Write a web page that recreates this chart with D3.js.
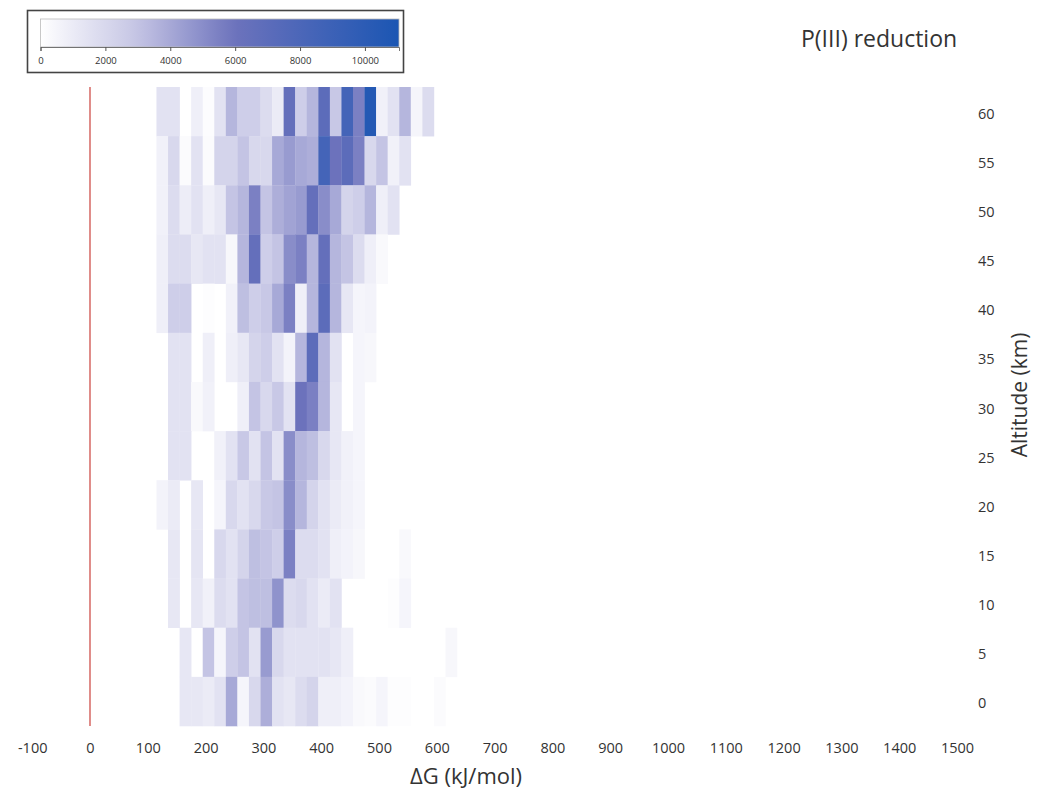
<!DOCTYPE html>
<html>
<head>
<meta charset="utf-8">
<script src="https://cdn.jsdelivr.net/npm/d3@7"></script>
<style>
  html, body { margin: 0; padding: 0; background: #ffffff; }
  svg { display: block; }
  text { font-family: "Open Sans", "Noto Sans", sans-serif; fill: #333; }
</style>
</head>
<body>
<svg id="chart" width="1045" height="793"></svg>
<script>
// ---- data ----
const title = "P(III) reduction";
const xLabel = "\u0394G (kJ/mol)";
const yLabel = "Altitude (km)";
const xTicks = [-100, 0, 100, 200, 300, 400, 500, 600, 700, 800, 900, 1000, 1100, 1200, 1300, 1400, 1500];
const yTicks = [0, 5, 10, 15, 20, 25, 30, 35, 40, 45, 50, 55, 60];
const legendTicks = [0, 2000, 4000, 6000, 8000, 10000];
const legendMax = 11050;
const binWidth = 20;
// lower edges of the ΔG bins (kJ/mol)
const binStarts = [115, 135, 155, 175, 195, 215, 235, 255, 275, 295, 315, 335, 355,
                   375, 395, 415, 435, 455, 475, 495, 515, 535, 555, 575, 595, 615];
// counts per bin, one array per altitude (km)
const alt60 = [1500,1500,0,800,150,1500,3500,2500,2500,1800,1000,6500,2500,3500,7000,2800,8500,5500,10500,700,1500,3500,500,1800,0,0];
const alt55 = [700,2000,200,1500,200,2200,2200,3000,2000,2000,4000,4500,4000,3800,8500,6000,7000,5500,2000,3000,700,1500,0,0,0,0];
const alt50 = [700,1800,900,1500,800,1200,3000,3500,5500,3000,3800,4200,4500,6500,5000,4000,2200,2500,3500,800,1500,0,0,0,0,0];
const alt45 = [800,1800,1800,1200,1500,1500,400,3500,6500,2500,3000,5000,5500,3500,6500,3500,3000,1800,800,300,0,0,0,0,0,0];
const alt40 = [800,2500,2500,0,100,0,700,3200,2500,2800,4000,5500,800,3500,7000,3500,1200,500,600,0,0,0,0,0,0,0];
const alt35 = [0,1500,1500,0,800,0,800,1200,2200,2500,1500,600,3500,7000,3500,1500,0,500,400,0,0,0,0,0,0,0];
const alt30 = [0,1500,1500,300,700,0,0,800,3000,2000,2800,1500,6000,5500,3500,1200,0,500,0,0,0,0,0,0,0,0];
const alt25 = [0,1500,1500,0,0,700,1500,2800,1500,3000,1500,5000,3500,3200,2000,1200,700,500,0,0,0,0,0,0,0,0];
const alt20 = [600,1000,0,1200,0,500,2000,1500,2000,2800,3000,5000,3500,2200,1500,1000,700,500,0,0,0,0,0,0,0,0];
const alt15 = [0,1200,0,1300,0,2000,1500,2200,3200,3000,2500,5500,1800,1800,1500,800,600,400,0,0,0,300,0,0,0,0];
const alt10 = [0,1200,0,1200,700,1800,1500,3000,3200,3200,4800,1800,2000,1500,1000,1500,0,0,0,0,100,500,0,0,0,0];
const alt5  = [0,0,1200,0,3000,500,2500,3000,1500,4500,2000,1500,1500,1500,1500,1200,800,0,0,0,0,0,0,0,0,400];
const alt0  = [0,0,1200,1200,1000,1500,4000,500,2000,3800,1500,1200,1800,2200,800,800,600,300,200,500,100,100,0,0,200,0];

const rows = [
  {alt: 60, counts: alt60}, {alt: 55, counts: alt55}, {alt: 50, counts: alt50},
  {alt: 45, counts: alt45}, {alt: 40, counts: alt40}, {alt: 35, counts: alt35},
  {alt: 30, counts: alt30}, {alt: 25, counts: alt25}, {alt: 20, counts: alt20},
  {alt: 15, counts: alt15}, {alt: 10, counts: alt10}, {alt: 5, counts: alt5},
  {alt: 0, counts: alt0}
];
const cells = [];
rows.forEach(r => r.counts.forEach((c, i) => cells.push({alt: r.alt, x0: binStarts[i], v: c})));

// ---- scales ----
const svg = d3.select("#chart");
const x = d3.scaleLinear().domain([0, 1500]).range([90, 957]);
const y = d3.scaleLinear().domain([-2.5, 62.5]).range([726, 87]);
const color = d3.scaleLinear()
  .domain([0, 3000, 6000, legendMax])
  .range(["#ffffff", "#c4c4e4", "#6c72bc", "#1b56b3"])
  .interpolate(d3.interpolateRgb)
  .clamp(true);

// ---- heatmap ----
svg.append("g").selectAll("rect")
  .data(cells.filter(d => d.v > 0))
  .join("rect")
  .attr("x", d => x(d.x0))
  .attr("width", d => x(d.x0 + binWidth) - x(d.x0) + 0.3)
  .attr("y", d => y(d.alt + 2.5))
  .attr("height", d => y(d.alt - 2.5) - y(d.alt + 2.5) + 0.3)
  .attr("fill", d => color(d.v));

// zero line
svg.append("line")
  .attr("x1", x(0)).attr("x2", x(0))
  .attr("y1", y(62.5)).attr("y2", y(-2.5))
  .attr("stroke", "#d8706c").attr("stroke-width", 1.6);

// ---- x axis ----
const xAxis = svg.append("g")
  .attr("transform", "translate(0,743)")
  .call(d3.axisBottom(x).tickValues(xTicks).tickSize(0).tickPadding(0).tickFormat(d => String(d)));
xAxis.select(".domain").remove();
xAxis.selectAll("text").attr("font-size", 14.5).attr("fill", "#333")
  .style("font-family", "'Open Sans', sans-serif").attr("dy", "0.71em");

svg.append("text").attr("x", 466).attr("y", 784)
  .attr("text-anchor", "middle").attr("font-size", 22).text(xLabel);

// ---- y axis (right) ----
const yAxis = svg.append("g")
  .attr("transform", "translate(978,0)")
  .call(d3.axisRight(y).tickValues(yTicks).tickSize(0).tickPadding(0));
yAxis.select(".domain").remove();
yAxis.selectAll("text").attr("font-size", 14.5).attr("fill", "#333")
  .style("font-family", "'Open Sans', sans-serif").attr("dy", "0.45em");

svg.append("text")
  .attr("transform", "translate(1027,395) rotate(-90)")
  .attr("text-anchor", "middle").attr("font-size", 21).text(yLabel);

// ---- title ----
svg.append("text").attr("x", 801).attr("y", 47)
  .attr("font-size", 23).text(title);

// ---- legend ----
const lg = svg.append("g");
lg.append("rect").attr("x", 27.5).attr("y", 10.5).attr("width", 376).attr("height", 62)
  .attr("fill", "#fff").attr("stroke", "#444").attr("stroke-width", 1.6);
const defs = svg.append("defs");
const grad = defs.append("linearGradient").attr("id", "lgGrad").attr("x1", "0%").attr("x2", "100%");
d3.range(0, 1.0001, 0.05).forEach(t => {
  grad.append("stop").attr("offset", (t * 100) + "%").attr("stop-color", color(t * legendMax));
});
const lx = d3.scaleLinear().domain([0, legendMax]).range([40.5, 399]);
lg.append("rect").attr("x", lx(0)).attr("y", 19).attr("width", lx(legendMax) - lx(0)).attr("height", 28)
  .attr("fill", "url(#lgGrad)").attr("stroke", "#bbb").attr("stroke-width", 0.8);
const lAxis = lg.append("g").attr("transform", "translate(0,47)")
  .call(d3.axisBottom(lx).tickValues(legendTicks).tickSize(4).tickPadding(6).tickFormat(d => String(d)));
lAxis.select(".domain").attr("stroke", "#555").attr("stroke-width", 0.8);
lAxis.selectAll(".tick line").attr("stroke", "#555");
lAxis.selectAll("text").attr("font-size", 9.5).attr("fill", "#333")
  .style("font-family", "'Open Sans', sans-serif");
</script>
</body>
</html>
